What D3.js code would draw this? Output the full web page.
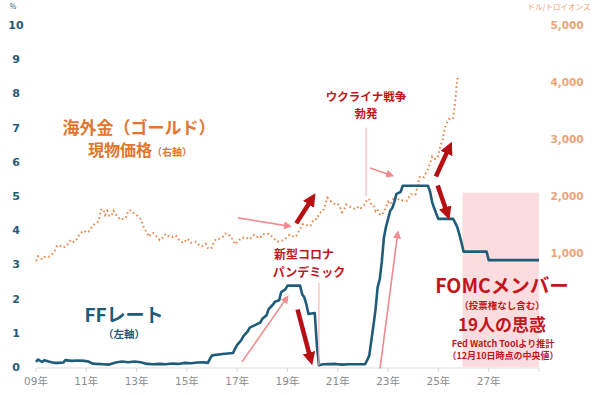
<!DOCTYPE html>
<html>
<head>
<meta charset="utf-8">
<script src="https://cdn.jsdelivr.net/npm/d3@7"></script>
<style>
  body { margin: 0; background: #fff; }
  svg { display: block; }
  text { font-family: "Noto Sans CJK JP", "Noto Sans", sans-serif; }
  .num { font-family: "DejaVu Sans", "Noto Sans CJK JP", sans-serif; }
</style>
</head>
<body>
<div id="chart"></div>
<script>
// FFレート (%, 左軸) 2009〜2025 実績 + FOMC 予測中央値
let ffDates = ['2009-01','2009-02','2009-03','2009-04','2009-05','2009-07','2009-10','2009-12',
  '2010-02','2010-03','2010-06','2010-09','2010-12','2011-02','2011-04','2011-06','2011-09','2011-12',
  '2012-03','2012-06','2012-09','2012-12','2013-03','2013-06','2013-09','2013-12',
  '2014-03','2014-06','2014-09','2014-12','2015-03','2015-06','2015-09','2015-11','2015-12',
  '2016-01','2016-06','2016-11','2016-12','2017-01','2017-03','2017-04','2017-06','2017-07','2017-12',
  '2018-01','2018-03','2018-04','2018-06','2018-07','2018-09','2018-10','2018-12',
  '2019-01','2019-06','2019-07','2019-08','2019-09','2019-10','2019-11','2020-02','2020-03','2020-04',
  '2020-06','2020-12','2021-03','2021-06','2021-12','2022-02','2022-03','2022-04','2022-05','2022-06',
  '2022-07','2022-08','2022-09','2022-10','2022-11','2022-12','2023-01','2023-02','2023-03','2023-04',
  '2023-05','2023-07','2023-08','2024-08','2024-09','2024-10','2024-11','2024-12','2025-01','2025-08',
  '2025-09','2025-10','2025-11','2025-12','2026-01','2026-12','2027-01','2029-01'];
let ffValues = [0.15,0.22,0.18,0.15,0.2,0.16,0.12,0.12,
  0.13,0.2,0.18,0.19,0.18,0.16,0.10,0.09,0.08,0.07,
  0.13,0.16,0.14,0.16,0.14,0.09,0.08,0.09,
  0.08,0.10,0.09,0.12,0.11,0.13,0.14,0.12,0.24,
  0.34,0.38,0.41,0.54,0.65,0.79,0.90,1.04,1.15,1.30,
  1.41,1.51,1.69,1.82,1.91,1.95,2.19,2.27,
  2.38,2.38,2.38,2.13,2.04,1.83,1.55,1.58,0.65,0.05,
  0.08,0.09,0.07,0.08,0.08,0.08,0.20,0.33,0.77,1.21,
  1.68,2.33,2.56,3.08,3.78,4.10,4.33,4.57,4.65,4.83,
  5.06,5.12,5.30,5.30,5.13,4.83,4.64,4.48,4.33,4.33,
  4.22,4.09,3.88,3.64,3.375,3.375,3.125,3.125];

// 海外金 現物価格 (ドル/トロイオンス, 右軸) 月次 2009-01〜2025-11
let goldStart = 2009;
let goldValues = [
  858,943,924,890,928,946,934,949,996,1043,1127,1135,
  1118,1095,1113,1148,1205,1232,1193,1215,1271,1342,1370,1391,
  1356,1372,1424,1474,1512,1529,1572,1756,1772,1666,1739,1652,
  1656,1742,1674,1650,1585,1596,1594,1630,1745,1747,1721,1688,
  1670,1628,1592,1485,1414,1343,1286,1347,1349,1316,1275,1225,
  1244,1300,1336,1299,1288,1279,1311,1296,1239,1223,1176,1201,
  1251,1227,1179,1198,1199,1181,1129,1117,1125,1159,1086,1068,
  1097,1200,1246,1242,1260,1276,1337,1341,1326,1267,1236,1152,
  1192,1234,1231,1266,1246,1260,1237,1283,1314,1279,1282,1265,
  1331,1331,1325,1335,1303,1282,1238,1202,1198,1215,1220,1250,
  1291,1320,1300,1286,1284,1359,1413,1500,1510,1495,1471,1479,
  1560,1597,1591,1683,1716,1732,1846,1968,1921,1900,1866,1858,
  1867,1808,1718,1760,1850,1834,1807,1785,1776,1777,1821,1790,
  1817,1856,1948,1937,1849,1837,1732,1764,1681,1664,1726,1798,
  1898,1854,1912,1999,1992,1943,1951,1918,1916,1915,1985,2030,
  2034,2024,2160,2330,2349,2327,2400,2470,2570,2690,2650,2650,
  2710,2890,2980,3190,3280,3350,3340,3370,3660,4050,4100];

let xTickYears = [2009,2011,2013,2015,2017,2019,2021,2023,2025,2027];
let leftTicks = [0,1,2,3,4,5,6,7,8,9,10];
let rightTicks = [1000,2000,3000,4000,5000];
let forecastStart = '2025-12';

let W = 600, H = 395;
let svg = d3.select('#chart').append('svg').attr('width', W).attr('height', H);

let toYear = function (s) {
    let p = s.split('-');
    return +p[0] + (+p[1] - 1) / 12;
};

let x = d3.scaleLinear().domain([2009, 2029]).range([36, 539]);
let yL = d3.scaleLinear().domain([0, 10]).range([367, 25]);
let yR = d3.scaleLinear().domain([-1000, 5000]).range([367, 25]);

// 予測ゾーン
svg.append('rect')
    .attr('x', x(toYear(forecastStart)) + 1)
    .attr('y', yL(5.1))
    .attr('width', x(2029) - x(toYear(forecastStart)) - 1)
    .attr('height', yL(0) - yL(5.1))
    .style('fill', '#fbdde0');

// x軸
let xAxis = svg.append('g').attr('transform', 'translate(0,' + (yL(0) + 1) + ')');
xAxis.append('line').attr('x1', x(2009)).attr('x2', x(2029))
    .style('stroke', '#d9d9d9').style('stroke-width', 1);
xAxis.selectAll('.tk').data(xTickYears.concat([2029])).enter().append('line')
    .attr('x1', d => x(d)).attr('x2', d => x(d)).attr('y1', 0).attr('y2', 4)
    .style('stroke', '#d9d9d9');
xAxis.selectAll('text').data(xTickYears).enter().append('text')
    .attr('class', 'num')
    .attr('x', d => x(d)).attr('y', 17)
    .attr('text-anchor', 'middle')
    .style('font-size', '10.5px').style('fill', '#8c8c8c')
    .text(d => String(d % 100).padStart(2, '0') + '年');

// 左軸
svg.selectAll('.lt').data(leftTicks).enter().append('text')
    .attr('class', 'num')
    .attr('x', 16).attr('y', d => yL(d) + 4)
    .attr('text-anchor', 'middle')
    .style('font-size', '11px').style('font-weight', 'bold').style('fill', '#1f5c7a')
    .text(d => d);
svg.append('text').attr('x', 13).attr('y', 9).attr('text-anchor', 'middle')
    .style('font-size', '7px').style('fill', '#1f5c7a').text('%');

// 右軸
svg.selectAll('.rt').data(rightTicks).enter().append('text')
    .attr('class', 'num')
    .attr('x', 567).attr('y', d => yR(d) + 4)
    .attr('text-anchor', 'middle')
    .style('font-size', '10.5px').style('font-weight', 'bold').style('fill', '#eba476')
    .text(d => d3.format(',')(d));
svg.append('text').attr('x', 559).attr('y', 10).attr('text-anchor', 'middle')
    .style('font-size', '7.5px').style('fill', '#eba476').text('ドル/トロイオンス');

// 金価格 (点線)
let goldLine = d3.line()
    .x((d, i) => x(goldStart + i / 12))
    .y(d => yR(d));
svg.append('path').datum(goldValues)
    .attr('d', goldLine)
    .style('fill', 'none').style('stroke', '#e9874a')
    .style('stroke-width', 2).style('stroke-dasharray', '1.6,2.8');

// FFレート
let ffLine = d3.line()
    .x(d => x(toYear(d[0])))
    .y(d => yL(d[1]));
svg.append('path').datum(ffDates.map((d, i) => [d, ffValues[i]]))
    .attr('d', ffLine)
    .style('fill', 'none').style('stroke', '#1f5c7a')
    .style('stroke-width', 2.6).style('stroke-linejoin', 'round');

// 矢印マーカー
let defs = svg.append('defs');
let addMarker = function (id, color, size) {
    defs.append('marker').attr('id', id)
        .attr('viewBox', '0 0 10 10').attr('refX', 6).attr('refY', 5)
        .attr('markerUnits', 'userSpaceOnUse')
        .attr('markerWidth', size).attr('markerHeight', size)
        .attr('orient', 'auto')
        .append('path').attr('d', 'M0,0L10,5L0,10z').style('fill', color);
};
addMarker('headPink', '#f08a8c', 8);
addMarker('headRed', '#b80f14', 13);

// 注記線 (年, 左軸値)
let thinLines = [
    [2022.12, 7.0, 2022.12, 5.0],
    [2020.25, 2.46, 2020.25, 0.05]
];
svg.selectAll('.vl').data(thinLines).enter().append('line')
    .attr('x1', d => x(d[0])).attr('y1', d => yL(d[1]))
    .attr('x2', d => x(d[2])).attr('y2', d => yL(d[3]))
    .style('stroke', '#f5b9bb').style('stroke-width', 1.2);

let pinkArrows = [
    [2017.03, 4.36, 2019.05, 4.12],
    [2022.28, 5.82, 2023.12, 5.61],
    [2017.19, 0.15, 2018.97, 2.02],
    [2022.68, -0.04, 2023.38, 3.9]
];
svg.selectAll('.pa').data(pinkArrows).enter().append('line')
    .attr('x1', d => x(d[0])).attr('y1', d => yL(d[1]))
    .attr('x2', d => x(d[2])).attr('y2', d => yL(d[3]))
    .attr('marker-end', 'url(#headPink)')
    .style('stroke', '#f08a8c').style('stroke-width', 1.6);

let redArrows = [
    [2019.35, 4.2, 2020.0, 4.95],
    [2019.40, 1.68, 2019.93, 0.2],
    [2024.9, 5.57, 2025.45, 6.45],
    [2024.97, 5.31, 2025.37, 4.45]
];
svg.selectAll('.ra').data(redArrows).enter().append('line')
    .attr('x1', d => x(d[0])).attr('y1', d => yL(d[1]))
    .attr('x2', d => x(d[2])).attr('y2', d => yL(d[3]))
    .attr('marker-end', 'url(#headRed)')
    .style('stroke', '#b80f14').style('stroke-width', 4.5);

// テキスト
let addText = function (t, px, py, size, color, weight) {
    return svg.append('text').attr('x', px).attr('y', py)
        .attr('text-anchor', 'middle')
        .style('font-size', size + 'px').style('font-weight', weight || 'bold')
        .style('fill', color).text(t);
};
let orange = '#e2762f', red = '#c3161c', navy = '#1f5c7a';
addText('海外金（ゴールド）', 139, 134, 17, orange);
let t2 = svg.append('text').attr('x', 140).attr('y', 156).attr('text-anchor', 'middle')
    .style('fill', orange).style('font-weight', 'bold');
t2.append('tspan').style('font-size', '16px').text('現物価格');
t2.append('tspan').style('font-size', '10px').text('（右軸）');

addText('FFレート', 124, 322, 19, navy);
addText('（左軸）', 124, 338, 10.5, navy);

addText('ウクライナ戦争', 366, 101, 11.5, red);
addText('勃発', 366, 118, 11.5, red);
addText('新型コロナ', 304, 259, 12, red);
addText('パンデミック', 309, 277, 12, red);

addText('FOMCメンバー', 502, 293, 19.5, red);
addText('（投票権なし含む）', 502, 309, 9.5, red);
addText('19人の思惑', 502, 331, 17, red);
addText('Fed Watch Toolより推計', 503, 347, 9, red);
addText('（12月10日時点の中央値）', 503, 359, 9, red);
</script>
</body>
</html>
